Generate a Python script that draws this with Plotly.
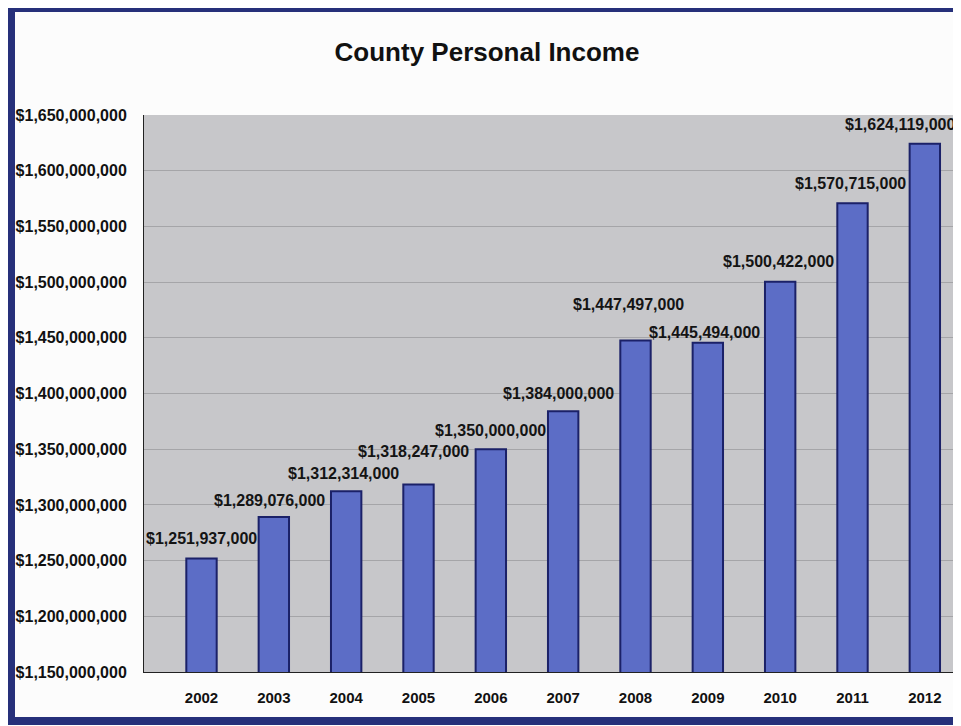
import plotly.graph_objects as go

years = ["2002", "2003", "2004", "2005", "2006", "2007", "2008", "2009", "2010", "2011", "2012"]
income = [1251937000, 1289076000, 1312314000, 1318247000, 1350000000, 1384000000,
          1447497000, 1445494000, 1500422000, 1570715000, 1624119000]
tick_vals = [1150000000 + 50000000 * i for i in range(11)]
tick_text = ["${:,}".format(v) for v in tick_vals]
labels = ["${:,}".format(v) for v in income]

# label offsets (style only), in pixels relative to bar top centre
label_dx = [0, -4, -3, -5, 0, -5, -7, -3, -2, -2, -25]
label_dy = [20, 17, 18, 33, 19, 18, 36, 10, 20, 20, 19]

FONT = "Liberation Sans, Arial, sans-serif"

# page body has an 8px margin: figure is sized/offset to compensate
W, H = 953, 718
ML, MT, MB, MR = 136, 107, 54, 0
PW, PH = W - ML - MR, H - MT - MB

fig = go.Figure()
fig.add_trace(go.Bar(
    x=years, y=income,
    width=0.42,
    marker=dict(color="#5C6DC6", line=dict(color="#1B2168", width=2)),
    hoverinfo="x+y",
))

for i, (v, t, dx, dy) in enumerate(zip(income, labels, label_dx, label_dy)):
    fig.add_annotation(x=i, y=v, text="<b>" + t + "</b>", showarrow=False,
                       xshift=dx, yshift=dy, yanchor="middle",
                       font=dict(family=FONT, size=16, color="#141414"))

# dark blue frame around the whole picture
fig.add_shape(type="rect", xref="paper", yref="paper",
              x0=(3 - ML) / PW, x1=(975 - ML) / PW,
              y0=(PH + MT - 713) / PH, y1=(PH + MT - 0) / PH,
              line=dict(color="#26307A", width=8), fillcolor="rgba(0,0,0,0)", layer="above")

fig.update_layout(
    width=W, height=H,
    margin=dict(l=ML, r=MR, t=MT, b=MB),
    paper_bgcolor="#FCFCFC",
    plot_bgcolor="#C7C7CA",
    showlegend=False,
    title=dict(text="<b>County Personal Income</b>", x=479 / W, xref="container", xanchor="center",
               y=1 - 44 / H, yref="container", yanchor="middle",
               font=dict(family=FONT, size=26, color="#111111")),
    xaxis=dict(type="category", showgrid=False, showline=True, linecolor="#222222", linewidth=1,
               ticks="", ticklabelstandoff=12,
               tickfont=dict(family=FONT, size=15, color="#111111"),
               tickprefix="<b>", ticksuffix="</b>"),
    yaxis=dict(range=[1150000000, 1650000000], tickvals=tick_vals,
               ticktext=["<b>" + t + "</b>" for t in tick_text],
               showgrid=True, gridcolor="#A5A5A8", gridwidth=1,
               showline=True, linecolor="#222222", linewidth=1, ticks="",
               ticklabelstandoff=13, zeroline=False,
               tickfont=dict(family=FONT, size=16, color="#111111")),
)

fig.write_html("out.html")
